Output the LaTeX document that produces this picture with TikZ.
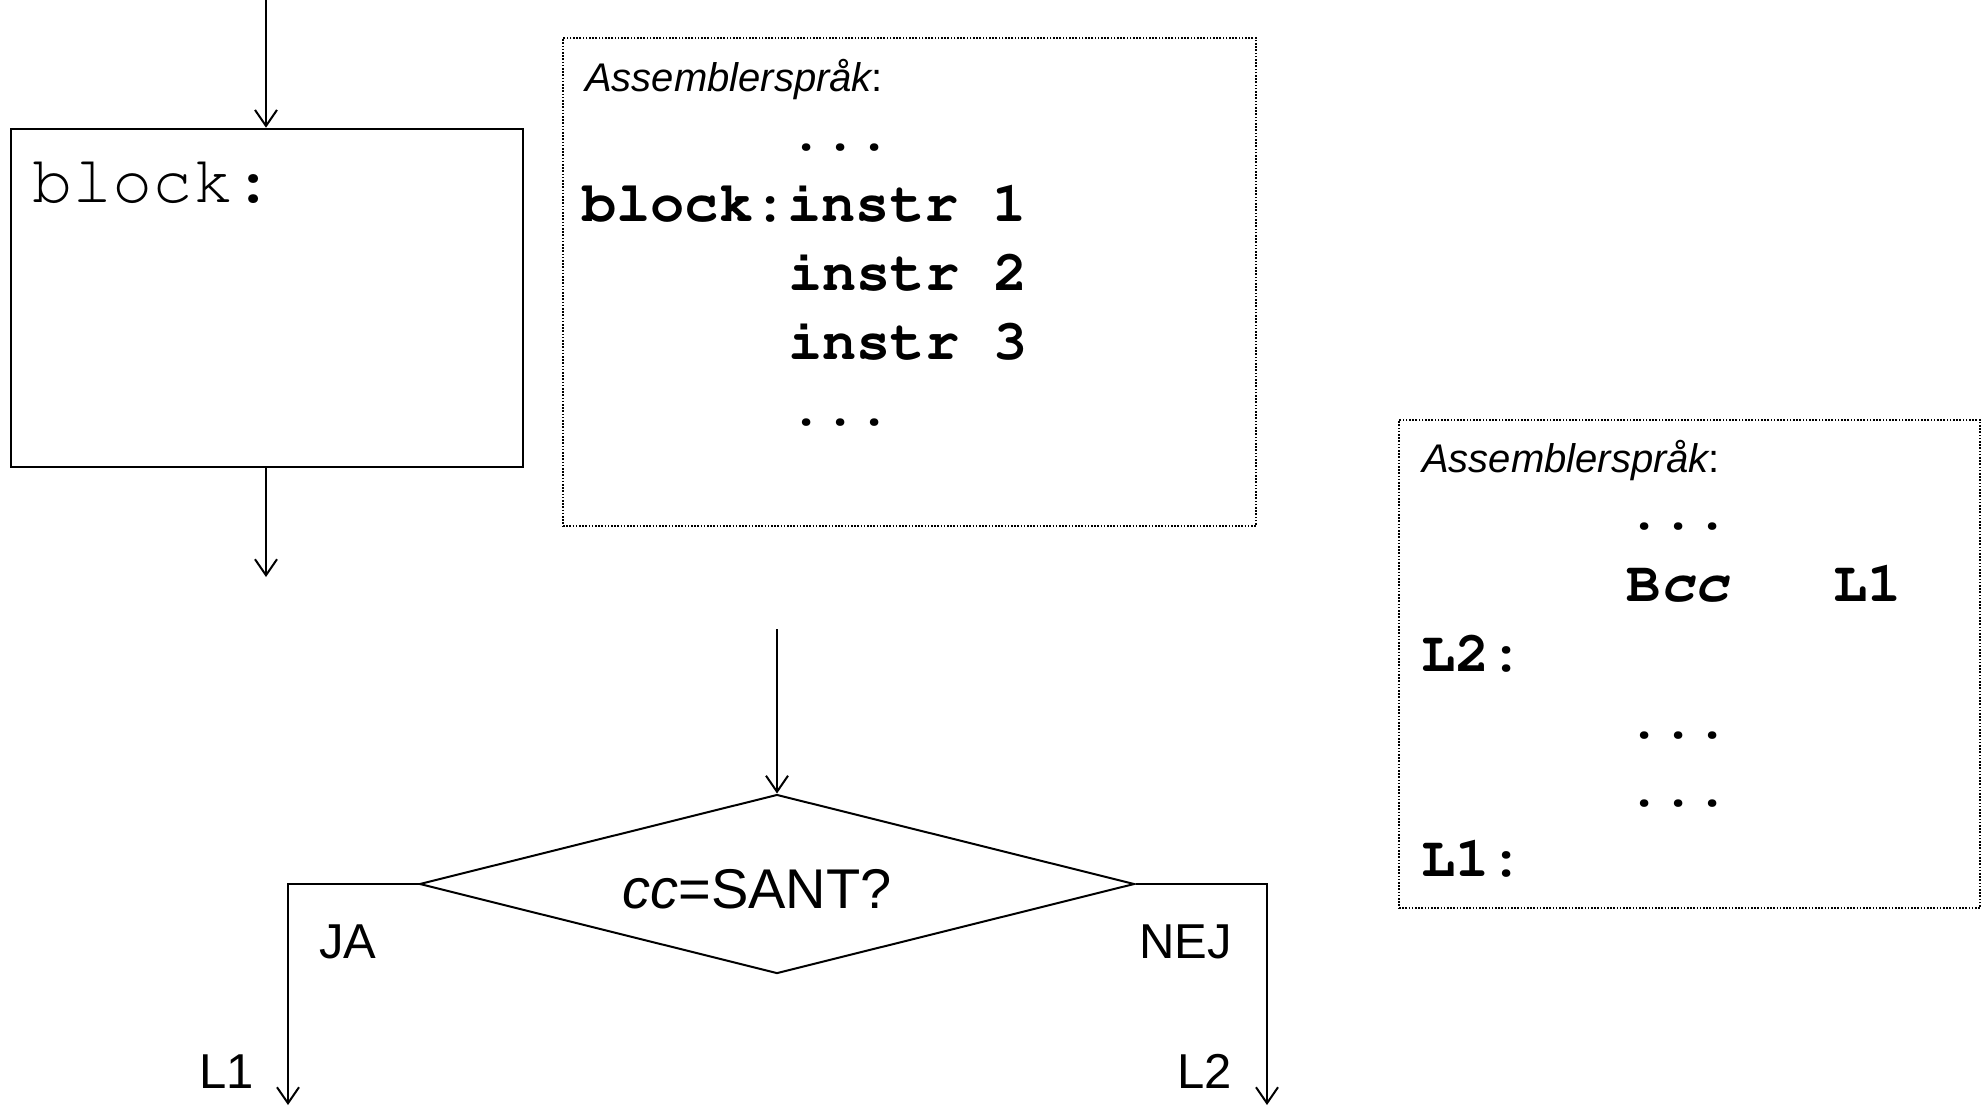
\documentclass[tikz,border=0pt]{standalone}
\usepackage{fontspec}
\setsansfont{Liberation Sans}
\setmonofont{Liberation Mono}
\usetikzlibrary{shapes.geometric,arrows.meta}
\newcommand{\courfont}{\fontencoding{T1}\fontfamily{pcr}\selectfont}
\tikzset{
  conn/.style={line width=2pt,-{Straight Barb[length=16pt,width=22pt,line width=2pt]}},
  solidbox/.style={draw,line width=2.6pt,minimum width=512pt,minimum height=338pt,inner sep=0pt},
  dotbox/.style={draw,line width=1.6pt,dash pattern=on 1.6pt off 1.6pt,inner sep=0pt},
  decision/.style={draw,diamond,aspect=4,line width=2pt,minimum width=715pt,minimum height=179pt,inner sep=0pt},
  condtext/.style={anchor=base,inner sep=0pt,font=\sffamily\fontsize{56}{64}\selectfont},
  lbl/.style={anchor=base west,inner sep=0pt,font=\sffamily\fontsize{49}{58}\selectfont},
  heading/.style={anchor=base west,inner sep=0pt,font=\sffamily\itshape\fontsize{40}{48}\selectfont},
  code/.style={anchor=base west,inner sep=0pt,font=\courfont\bfseries\fontsize{57}{69}\selectfont},
  plaincode/.style={anchor=base west,inner sep=0pt,font=\courfont\fontsize{67}{80}\selectfont},
}
\begin{document}
\begin{tikzpicture}[x=1pt,y=-1pt]
\useasboundingbox (0,0) rectangle (1984,1106);
% left block
\node[solidbox] (box1) at (267,298) {};
\node[plaincode] (blocklbl) at (32,202) {block:};
\coordinate (in1) at (266,0);
\coordinate (out1) at (266,577);
\draw[conn] (in1) -- (in1 |- box1.north);
\draw[conn] (in1 |- box1.south) -- (out1);
% assembler box 1
\node[dotbox,minimum width=693pt,minimum height=488pt] (asm1) at (909.5,282) {};
\node[heading] (h1) at (585,91) {Assemblerspråk\upshape:};
\node[code] (a1l0) at (789,150) {...};
\node[code] (a1l1) at (582,221) {block:instr 1};
\node[code] (a1l2) at (788,290) {instr 2};
\node[code] (a1l3) at (788,359) {instr 3};
\node[code] (a1l4) at (789,425) {...};
% assembler box 2
\node[dotbox,minimum width=581pt,minimum height=488pt] (asm2) at (1689.5,664) {};
\node[heading] (h2) at (1422,472) {Assemblerspråk\upshape:};
\node[code] (a2l0) at (1627,529) {...};
\node[code] (a2bcc) at (1626,601) {B\textit{cc}};
\node[code] (a2tgt) at (1833,601) {L1};
\node[code] (a2l2) at (1421,671) {L2:};
\node[code] (a2l3) at (1627,738) {...};
\node[code] (a2l4) at (1627,806) {...};
\node[code] (a2l5) at (1421,876) {L1:};
% decision
\node[decision] (dia) at (777,884) {};
\node[condtext] (cond) at (757,908) {\textit{cc}=SANT?};
\coordinate (in2) at (777,629);
\draw[conn] (in2) -- (dia.north);
\coordinate (lend) at (288,1105);
\coordinate (rend) at (1267,1105);
\draw[conn] (dia.west) -| (lend);
\draw[conn] (dia.east) -| (rend);
\node[lbl] (ja) at (319,958) {JA};
\node[lbl] (nej) at (1139,958) {NEJ};
\node[lbl] (l1) at (199,1088) {L1};
\node[lbl] (l2) at (1177,1088) {L2};
\end{tikzpicture}
\end{document}
